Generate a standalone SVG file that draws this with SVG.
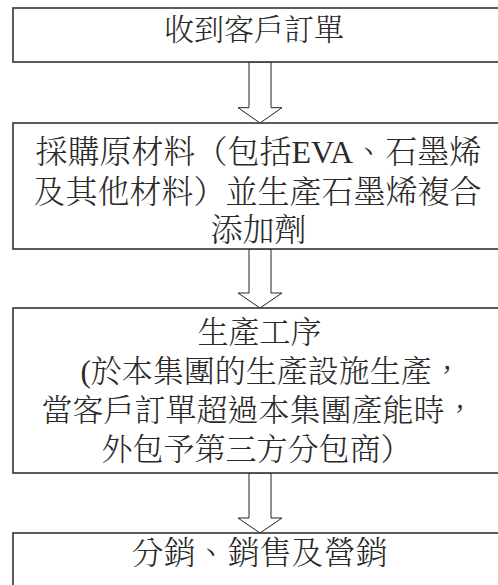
<svg xmlns="http://www.w3.org/2000/svg" width="498" height="585" viewBox="0 0 498 585">
<style>
.box{fill:#fff;stroke:#333;stroke-width:1.6}
.arr{fill:#fff;stroke:#222;stroke-width:1}
text{font-family:"Liberation Serif","Noto Serif CJK TC","Noto Sans CJK TC",serif;font-weight:300;fill:#2a2a2a}
.f30{font-size:30px}
.f31{font-size:31px}
.f32{font-size:32px}
</style>
<rect width="498" height="585" fill="#fff"/>
<g id="connectors">
<polygon class="arr" points="249,62 271,62 271,107.7 282,107.7 260,123 238,107.7 249,107.7"/>
<polygon class="arr" points="249,249 271,249 271,293 282,293 260,308 238,293 249,293"/>
<polygon class="arr" points="249,473 271,473 271,518 282,518 260,533 238,518 249,518"/>
</g>
<g id="n1">
<rect class="box" x="13" y="8" width="500" height="54"/>
<text class="f30" x="164" y="40">收到客戶訂單</text>
</g>
<g id="n2">
<rect class="box" x="13" y="123" width="500" height="126"/>
<text class="f32" x="35.5" y="163">採購原材料（包括EVA、石墨烯</text>
<text class="f32" x="33.5" y="203">及其他材料）並生產石墨烯複合</text>
<text class="f32" x="210.5" y="241">添加劑</text>
</g>
<g id="n3">
<rect class="box" x="13" y="308" width="500" height="165"/>
<text class="f31" x="197.5" y="343">生產工序</text>
<text class="f31" x="80.5" y="382">(於本集團的生產設施生產，</text>
<text class="f31" x="41.5" y="421">當客戶訂單超過本集團產能時，</text>
<text class="f31" x="101.5" y="460">外包予第三方分包商）</text>
</g>
<g id="n4">
<rect class="box" x="13" y="533" width="500" height="70"/>
<text class="f32" x="131.5" y="564">分銷、銷售及營銷</text>
</g>
</svg>
